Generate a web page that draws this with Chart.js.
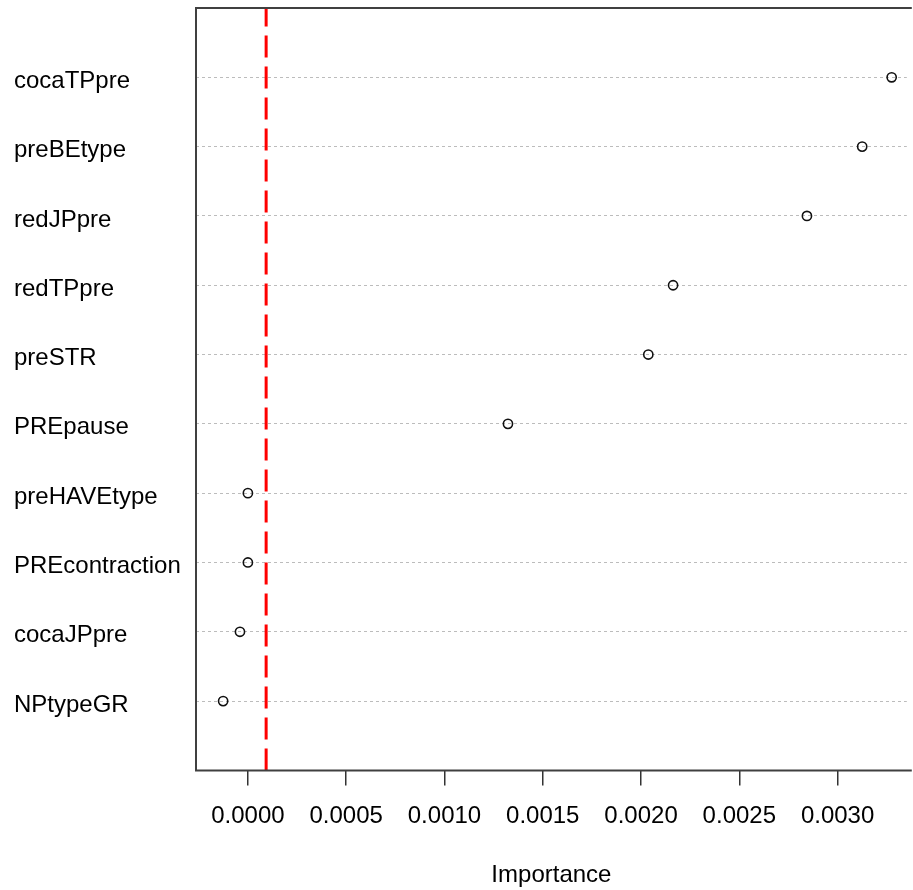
<!DOCTYPE html>
<html>
<head>
<meta charset="utf-8">
<script src="https://cdn.jsdelivr.net/npm/chart.js@4.4.1/dist/chart.umd.min.js"></script>
<style>
  html, body { margin: 0; padding: 0; background: #fff; overflow: hidden; }
  #wrap { width: 913px; height: 890px; }
</style>
</head>
<body>
<div id="wrap"><canvas id="imp" width="913" height="890"></canvas></div>
<script>
// variable importance, top of the list first
const variables = ['cocaTPpre', 'preBEtype', 'redJPpre', 'redTPpre', 'preSTR',
                   'PREpause', 'preHAVEtype', 'PREcontraction', 'cocaJPpre', 'NPtypeGR'];
const importance = [0.003275, 0.003125, 0.002844, 0.002163, 0.002037,
                    0.001323, 0.0000, 0.0000, -0.0000403, -0.000126];
const xTicks = [0, 0.0005, 0.0010, 0.0015, 0.0020, 0.0025, 0.0030];
const cutoff = 0.0000928;

const n = variables.length;
const FONT = { family: '"Liberation Sans", Arial, sans-serif', size: 24 };

// points go bottom-up like a dotchart: last variable at y = 1
const points = variables.map((v, i) => ({ x: importance[i], y: n - i }));

// plain box on three sides (right side runs off the canvas)
const boxPlugin = {
  id: 'box',
  afterDraw(chart) {
    const { ctx, chartArea: a } = chart;
    ctx.save();
    ctx.strokeStyle = '#404040';
    ctx.lineWidth = 2;
    ctx.beginPath();
    ctx.moveTo(a.right + 5, a.top);
    ctx.lineTo(a.left, a.top);
    ctx.lineTo(a.left, a.bottom);
    ctx.lineTo(a.right + 5, a.bottom);
    ctx.stroke();
    ctx.restore();
  }
};

const config = {
  type: 'scatter',
  data: {
    datasets: [
      {
        data: points,
        pointStyle: 'circle',
        pointRadius: 4.6,
        pointBorderWidth: 1.6,
        pointBorderColor: '#111',
        pointBackgroundColor: 'rgba(0,0,0,0)',
        showLine: false
      },
      {
        type: 'line',
        data: [{ x: cutoff, y: 0 }, { x: cutoff, y: n + 1 }],
        borderColor: '#ff0000',
        borderWidth: 3,
        borderDash: [22, 9],
        pointRadius: 0,
        fill: false
      }
    ]
  },
  options: {
    responsive: false,
    animation: false,
    layout: { padding: { left: 14, top: 8, right: 0, bottom: 0 } },
    plugins: { legend: { display: false }, tooltip: { enabled: false } },
    scales: {
      x: {
        type: 'linear',
        min: -0.000264,
        max: 0.003352,
        afterBuildTicks(scale) {
          scale.ticks = xTicks.map(v => ({ value: v }));
        },
        grid: {
          drawOnChartArea: false,
          drawTicks: true,
          tickLength: 15,
          color: '#333',
          lineWidth: 1.5
        },
        border: { display: false },
        ticks: {
          padding: 17,
          color: '#000',
          font: FONT,
          maxRotation: 0,
          autoSkip: false,
          callback: v => v.toFixed(4)
        },
        title: {
          display: true,
          text: 'Importance',
          color: '#000',
          font: FONT,
          padding: { top: 13, bottom: 0 }
        }
      },
      y: {
        type: 'linear',
        min: 0,
        max: n + 1,
        afterBuildTicks(scale) {
          scale.ticks = variables.map((v, i) => ({ value: n - i }));
        },
        afterFit(scale) {
          scale.width = 182;
          scale.paddingTop = 0;
          scale.paddingBottom = 0;
        },
        ticks: {
          crossAlign: 'far',
          labelOffset: 4,
          color: '#000',
          font: FONT,
          callback: v => variables[n - v]
        },
        grid: {
          drawTicks: false,
          lineWidth: 1,
          color: '#bcbcbc'
        },
        border: { display: false, dash: [3, 3] }
      }
    }
  },
  plugins: [boxPlugin]
};

new Chart(document.getElementById('imp'), config);
</script>
</body>
</html>
